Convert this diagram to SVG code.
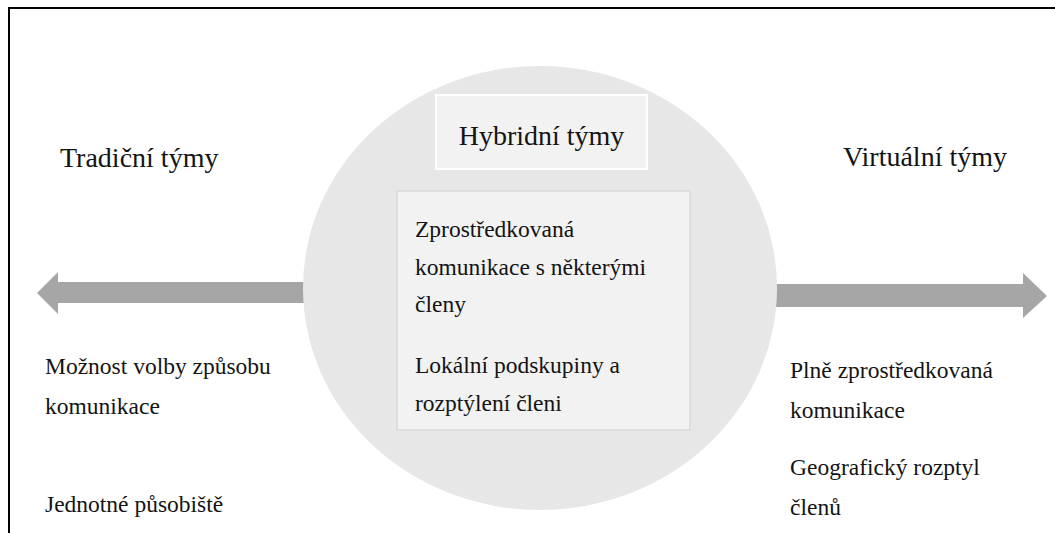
<svg xmlns="http://www.w3.org/2000/svg" width="1055" height="533" viewBox="0 0 1055 533">
<style>
.t{font-family:"Liberation Serif","Times New Roman",serif;fill:#141414}
.h{font-size:28px}
.b{font-size:23.5px}
.arr{fill:#a6a6a6}
</style>
<rect width="1055" height="533" fill="#ffffff"/>
<g id="frame" stroke="#000" stroke-width="2" fill="none">
<path d="M9 533 V8 H1055"/>
</g>
<g id="connectors">
<polygon class="arr" points="37,293 58,272 58,282 320,282 320,303 58,303 58,314"/>
<polygon class="arr" points="760,284 1023,284 1023,273 1047,296 1023,318 1023,307 760,307"/>
</g>
<g id="hybrid-circle">
<ellipse cx="540" cy="288" rx="237" ry="222" fill="#e7e7e7"/>
</g>
<g id="hybrid-title">
<rect x="436" y="95" width="211" height="74" fill="#f2f2f2" stroke="#ffffff" stroke-width="2"/>
<text class="t h" x="541.5" y="145" text-anchor="middle">Hybridní týmy</text>
</g>
<g id="hybrid-content">
<rect x="397" y="191" width="293" height="239" fill="#f2f2f2" stroke="#d9d9d9" stroke-width="1.5"/>
<text class="t b" x="415" y="237">Zprostředkovaná</text>
<text class="t b" x="415" y="275">komunikace s některými</text>
<text class="t b" x="415" y="312">členy</text>
<text class="t b" x="415" y="373">Lokální podskupiny a</text>
<text class="t b" x="415" y="411">rozptýlení členi</text>
</g>
<g id="traditional">
<text class="t h" x="60" y="167">Tradiční týmy</text>
<text class="t b" x="45" y="374">Možnost volby způsobu</text>
<text class="t b" x="45" y="414">komunikace</text>
<text class="t b" x="45" y="512">Jednotné působiště</text>
</g>
<g id="virtual">
<text class="t h" x="843" y="166">Virtuální týmy</text>
<text class="t b" x="790" y="378">Plně zprostředkovaná</text>
<text class="t b" x="790" y="418">komunikace</text>
<text class="t b" x="790" y="475">Geografický rozptyl</text>
<text class="t b" x="790" y="515">členů</text>
</g>
</svg>
